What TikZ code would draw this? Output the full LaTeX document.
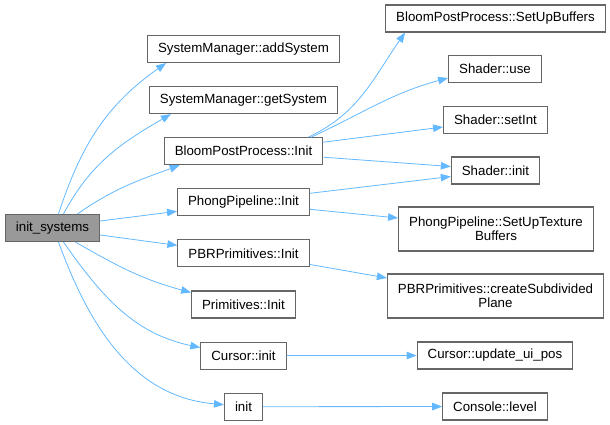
\documentclass[tikz,border=0pt]{standalone}
\usepackage{fontspec}
\setmainfont{Liberation Sans}
\usetikzlibrary{arrows.meta,positioning}
\definecolor{edgeblue}{HTML}{63B8FF}
\definecolor{boxline}{HTML}{666666}
\definecolor{rootfill}{HTML}{999999}

\begin{document}
\begin{tikzpicture}[
    x=1pt, y=-1pt,
    font=\fontsize{13.3}{14}\selectfont,
    node distance=23pt,
    fn/.style={draw=boxline, fill=white, line width=1.1pt, minimum height=27pt, inner xsep=10.5pt, align=center},
    fntwo/.style={fn, minimum height=44pt},
    rootfn/.style={fn, fill=rootfill},
    call/.style={draw=edgeblue, line width=0.8pt, -{Triangle[length=10pt,width=7.5pt]}}
]
\useasboundingbox (0,0) rectangle (610,424);

% caller
\node[rootfn] (root) at (52.5,228) {init\_systems};

% direct callees
\node[fn] (addsys) at (243.5,49) {SystemManager::addSystem};
\node[fn, below=23pt of addsys] (getsys) {SystemManager::getSystem};
\node[fn, below=23pt of getsys] (bloominit) {BloomPostProcess::Init};
\node[fn, below=23pt of bloominit] (phonginit) {PhongPipeline::Init};
\node[fn, below=23pt of phonginit] (pbrinit) {PBRPrimitives::Init};
\node[fn, below=23pt of pbrinit] (priminit) {Primitives::Init};
\node[fn, below=23pt of priminit] (cursorinit) {Cursor::init};
\node[fn, below=23pt of cursorinit] (init) {init};

% second level
\node[fn] (bloombuf) at (495.5,18.5) {BloomPostProcess::SetUpBuffers};
\node[fn] (shuse) at (495,69) {Shader::use};
\node[fn] (shsetint) at (495.5,120) {Shader::setInt};
\node[fn] (shinit) at (495.5,170.5) {Shader::init};
\node[fntwo] (phongtex) at (496,229) {PhongPipeline::SetUpTexture\\Buffers};
\node[fntwo] (pbrplane) at (495.5,296) {PBRPrimitives::createSubdivided\\Plane};
\node[fn] (cursorpos) at (495,355.5) {Cursor::update\_ui\_pos};
\node[fn] (conlevel) at (495,406.5) {Console::level};

% calls from init_systems
\draw[call] ([xshift=6pt]root.north) to[out=72,in=215] ([xshift=19pt]addsys.south west);
\draw[call] ([xshift=11pt]root.north) to[out=62,in=210] ([xshift=22pt]getsys.south west);
\draw[call] ([xshift=25pt]root.north) to[out=35,in=200] ([xshift=16pt]bloominit.south west);
\draw[call] ([yshift=7pt]root.east) -- ([yshift=-9pt]phonginit.west);
\draw[call] ([yshift=-7pt]root.east) -- ([yshift=8pt]pbrinit.west);
\draw[call] ([xshift=23pt]root.south) to[out=-30,in=165] ([yshift=12pt]priminit.west);
\draw[call] ([xshift=11pt]root.south) to[out=-55,in=168] ([yshift=8pt]cursorinit.west);
\draw[call] ([xshift=6pt]root.south) to[out=-70,in=175] ([yshift=2pt]init.west);

% calls of the second level
\draw[call] ([xshift=-15pt]bloominit.north east) to[out=25,in=235] ([xshift=20pt]bloombuf.south west);
\draw[call] ([xshift=-12pt]bloominit.north east) to[out=25,in=195] ([yshift=-9pt]shuse.west);
\draw[call] ([yshift=9pt]bloominit.east) -- ([yshift=-7pt]shsetint.west);
\draw[call] ([yshift=-6pt]bloominit.east) -- ([yshift=4pt]shinit.west);
\draw[call] ([yshift=9pt]phonginit.east) -- ([yshift=-6pt]shinit.west);
\draw[call] ([yshift=-7pt]phonginit.east) -- ([yshift=11pt]phongtex.west);
\draw[call] ([yshift=-11pt]pbrinit.east) -- ([yshift=18pt]pbrplane.west);
\draw[call] (cursorinit) -- (cursorpos);
\draw[call] (init) -- (conlevel);
\end{tikzpicture}
\end{document}
